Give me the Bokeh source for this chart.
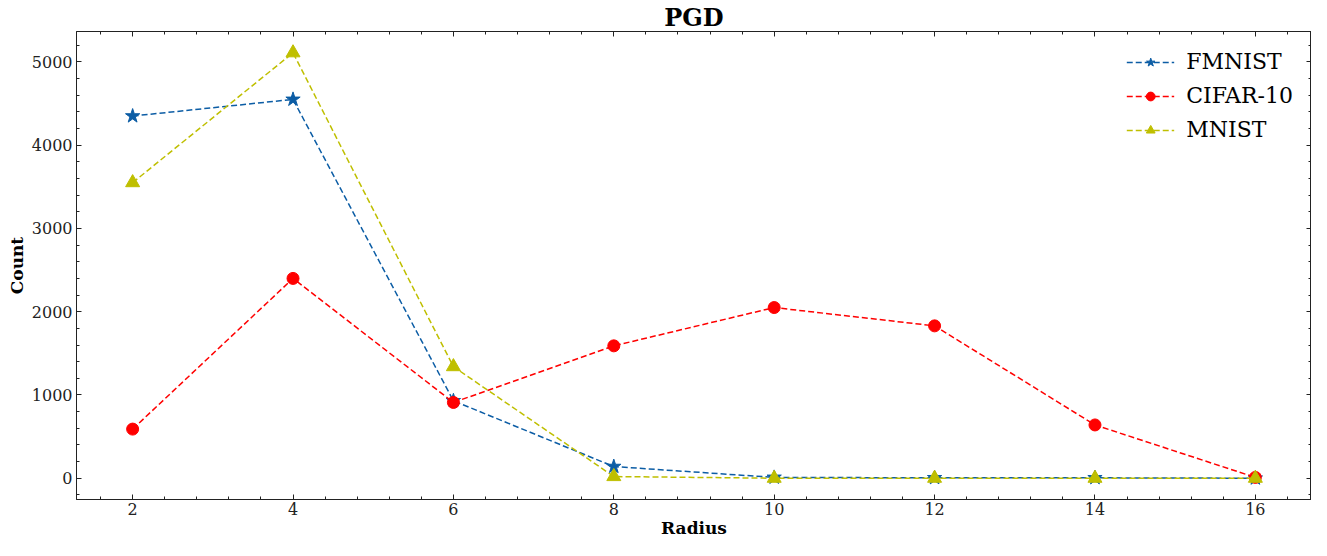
from bokeh.plotting import figure
from bokeh.models import (Range1d, FixedTicker, LinearAxis, Legend, LegendItem,
                          ColumnDataSource)
from bokeh.embed import file_html
from bokeh.resources import INLINE

radius = [2, 4, 6, 8, 10, 12, 14, 16]
fmnist = [4350, 4550, 930, 140, 10, 5, 5, 0]
cifar10 = [590, 2400, 910, 1590, 2050, 1830, 640, 10]
mnist = [3550, 5110, 1340, 20, 0, 0, 0, 0]

x_ticks = [2, 4, 6, 8, 10, 12, 14, 16]
y_ticks = [0, 1000, 2000, 3000, 4000, 5000]

series = [
    ("FMNIST", fmnist, "#0C5DA5", "star", 15),
    ("CIFAR-10", cifar10, "#FF0000", "circle", 12),
    ("MNIST", mnist, "#BFBF00", "triangle", 14),
]

FONT = "DejaVu Serif"

p = figure(width=1311, height=540, output_backend="svg", toolbar_location=None,
           x_range=Range1d(1.3, 16.7), y_range=Range1d(-255.5, 5365.5),
           min_border_left=76, min_border_right=0, min_border_top=0,
           min_border_bottom=0, x_axis_location=None, y_axis_location=None)
p.grid.visible = False
p.outline_line_color = "#222222"
p.outline_line_width = 1
p.background_fill_color = "white"
p.border_fill_color = "white"

p.title.text = "PGD"
p.title.align = "center"
p.title.text_font = FONT
p.title.text_font_style = "bold"
p.title.text_font_size = "24px"
p.title.text_color = "black"
p.title.standoff = 0
p.title.offset = 0

x_minor = [round(1.6 + 0.4 * i, 2) for i in range(38) if round(1.6 + 0.4 * i, 2) not in x_ticks]
y_minor = [v for v in range(-200, 5401, 200) if v not in y_ticks]
xt = FixedTicker(ticks=x_ticks, minor_ticks=x_minor)
yt = FixedTicker(ticks=y_ticks, minor_ticks=y_minor)


def style(ax, labels=True):
    ax.major_tick_in = 5
    ax.major_tick_out = 0
    ax.minor_tick_in = 3
    ax.minor_tick_out = 0
    ax.axis_line_color = "#222222"
    ax.major_tick_line_color = "#222222"
    ax.minor_tick_line_color = "#222222"
    ax.major_label_text_font = FONT
    ax.major_label_text_color = "#222222"
    ax.axis_label_text_font = FONT
    ax.axis_label_text_font_style = "bold"
    ax.axis_label_text_font_size = "17px"
    ax.axis_label_text_color = "black"
    if labels:
        ax.major_label_text_font_size = "16px"
        ax.major_label_standoff = 4
    else:
        ax.major_label_text_font_size = "0px"
        ax.major_label_standoff = 0


xb = LinearAxis(ticker=xt, axis_label="Radius")
style(xb)
xb.axis_label_standoff = 0
xb.major_label_standoff = 3
p.add_layout(xb, "below")

yl = LinearAxis(ticker=yt, axis_label="Count")
style(yl)
yl.axis_label_standoff = 2
p.add_layout(yl, "left")

xa = LinearAxis(ticker=xt)
style(xa, labels=False)
xa.major_label_overrides = {t: "" for t in x_ticks}
p.add_layout(xa, "above")

yr = LinearAxis(ticker=yt)
style(yr, labels=False)
yr.major_label_overrides = {t: "" for t in y_ticks}
p.add_layout(yr, "right")

items = []
for name, vals, color, marker, size in series:
    src = ColumnDataSource(dict(x=radius, y=vals))
    ln = p.line("x", "y", source=src, line_color=color, line_width=1.5,
                line_dash="6 3")
    sc = p.scatter("x", "y", source=src, marker=marker, size=size,
                   fill_color=color, line_color=color)
    items.append(LegendItem(label=name, renderers=[ln, sc]))

legend = Legend(items=items, location="top_right")
legend.border_line_alpha = 0
legend.background_fill_alpha = 0
legend.label_text_font = FONT
legend.label_text_font_size = "22px"
legend.label_text_color = "black"
legend.glyph_width = 48
legend.glyph_height = 22
legend.label_height = 22
legend.spacing = 9
legend.label_standoff = 12
legend.margin = 8
legend.padding = 10
p.add_layout(legend)

open("out.html", "w").write(file_html(p, INLINE))
